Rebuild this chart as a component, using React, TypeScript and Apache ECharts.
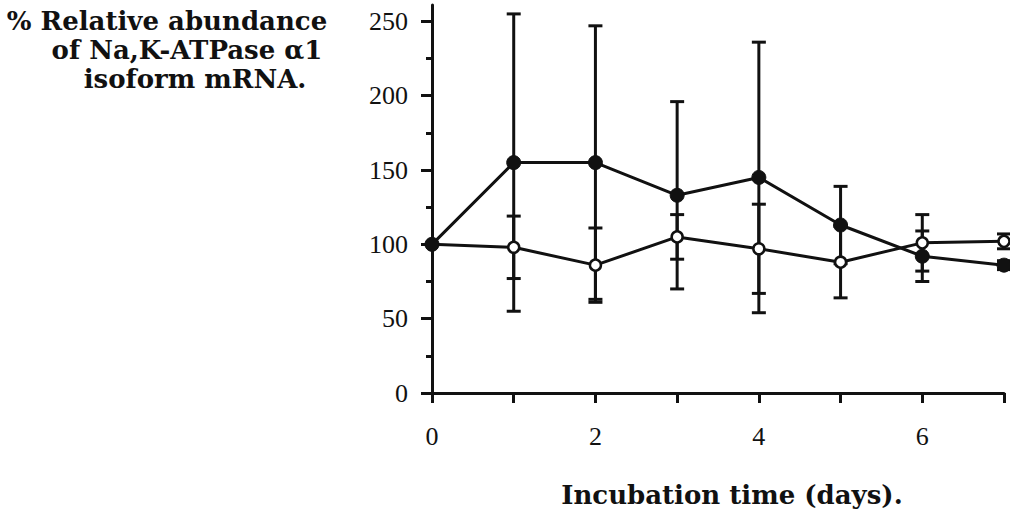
import React, { useEffect, useRef } from "react";
import * as echarts from "echarts";

const days = [0, 1, 2, 3, 4, 5, 6, 7];
const xTickLabels = ["0", "2", "4", "6"];
const yTickValues = [0, 50, 100, 150, 200, 250];
const yMinorTickValues = [25, 75, 125, 175, 225];
const filledMean = [100, 155, 155, 133, 145, 113, 92, 86];
const filledErr = [0, 100, 92, 63, 91, 26, 17, 3];
const openMean = [100, 98, 86, 105, 97, 88, 101, 102];
const openErr = [0, 21, 25, 15, 30, 24, 19, 5];
const titleLines = ["% Relative abundance", "of Na,K-ATPase α1", "isoform mRNA."];
const xAxisTitle = "Incubation time (days).";

const INK = "#111";
const SERIF = "'Liberation Serif', 'Times New Roman', serif";
const TITLE_FONT = "'DejaVu Serif', 'Liberation Serif', serif";

function errorBars(mean: number[], err: number[], z: number) {
  return {
    type: "custom",
    z,
    clip: false,
    encode: { x: 0, y: [1, 2] },
    data: days.map((d, i) => [d, mean[i] - err[i], mean[i] + err[i]]),
    renderItem: (_params: any, api: any) => {
      const x = api.value(0);
      const lo = api.value(1);
      const hi = api.value(2);
      if (hi - lo <= 0) return { type: "group", children: [] };
      const pLo = api.coord([x, lo]);
      const pHi = api.coord([x, hi]);
      const w = 7;
      const st = { stroke: INK, lineWidth: 3 };
      return {
        type: "group",
        children: [
          { type: "line", shape: { x1: pLo[0], y1: pLo[1], x2: pHi[0], y2: pHi[1] }, style: st },
          { type: "line", shape: { x1: pLo[0] - w, y1: pLo[1], x2: pLo[0] + w, y2: pLo[1] }, style: st },
          { type: "line", shape: { x1: pHi[0] - w, y1: pHi[1], x2: pHi[0] + w, y2: pHi[1] }, style: st },
        ],
      };
    },
  };
}

export default function App() {
  const ref = useRef<HTMLDivElement>(null);
  useEffect(() => {
    if (!ref.current) return;
    const chart = echarts.init(ref.current, undefined, { renderer: "svg" });
    const titleCenters = [
      [167, 21],
      [187, 50],
      [195, 79],
    ];
    chart.setOption({
      animation: false,
      backgroundColor: "#fff",
      grid: { left: 432, right: 6, top: 5, bottom: 118, containLabel: false },
      graphic: titleLines.map((t, i) => ({
        type: "text",
        x: titleCenters[i][0],
        y: titleCenters[i][1],
        style: {
          text: t,
          fill: INK,
          font: `bold 26px ${TITLE_FONT}`,
          textAlign: "center",
          textVerticalAlign: "middle",
        },
      })),
      xAxis: {
        type: "value",
        min: 0,
        max: 7,
        interval: 1,
        name: xAxisTitle,
        nameLocation: "middle",
        nameGap: 89,
        nameTextStyle: {
          fontFamily: TITLE_FONT,
          fontWeight: "bold",
          fontSize: 26,
          color: INK,
          padding: [0, 0, 0, 28],
        },
        axisLine: { show: true, lineStyle: { color: INK, width: 3 } },
        axisTick: { show: true, length: 10, lineStyle: { color: INK, width: 3 } },
        axisLabel: {
          color: INK,
          fontFamily: SERIF,
          fontSize: 26,
          margin: 30,
          formatter: (v: number) => (xTickLabels.includes(String(v)) ? String(v) : ""),
        },
        splitLine: { show: false },
      },
      yAxis: [
        {
          type: "value",
          min: 0,
          max: 261,
          axisLine: { show: true, lineStyle: { color: INK, width: 3 } },
          axisTick: { show: true, length: 11, customValues: yTickValues, lineStyle: { color: INK, width: 3 } },
          axisLabel: { color: INK, fontFamily: SERIF, fontSize: 26, margin: 24, customValues: yTickValues },
          splitLine: { show: false },
        },
        {
          type: "value",
          min: 0,
          max: 261,
          position: "left",
          axisLine: { show: false },
          axisTick: { show: true, length: 6, customValues: yMinorTickValues, lineStyle: { color: INK, width: 3 } },
          axisLabel: { show: false },
          splitLine: { show: false },
        },
      ],
      series: [
        errorBars(openMean, openErr, 1),
        errorBars(filledMean, filledErr, 1),
        {
          type: "line",
          z: 3,
          data: days.map((d, i) => [d, openMean[i]]),
          symbol: "circle",
          symbolSize: 11,
          lineStyle: { color: INK, width: 3 },
          itemStyle: { color: "#fff", borderColor: INK, borderWidth: 2.5 },
        },
        {
          type: "line",
          z: 4,
          data: days.map((d, i) => [d, filledMean[i]]),
          symbol: "circle",
          symbolSize: 14,
          lineStyle: { color: INK, width: 3 },
          itemStyle: { color: INK, borderColor: INK, borderWidth: 1 },
        },
      ],
    });
    return () => chart.dispose();
  }, []);
  return (
    <div
      ref={ref}
      style={{ position: "fixed", left: 0, top: 0, width: 1010, height: 513, background: "#fff" }}
    />
  );
}
